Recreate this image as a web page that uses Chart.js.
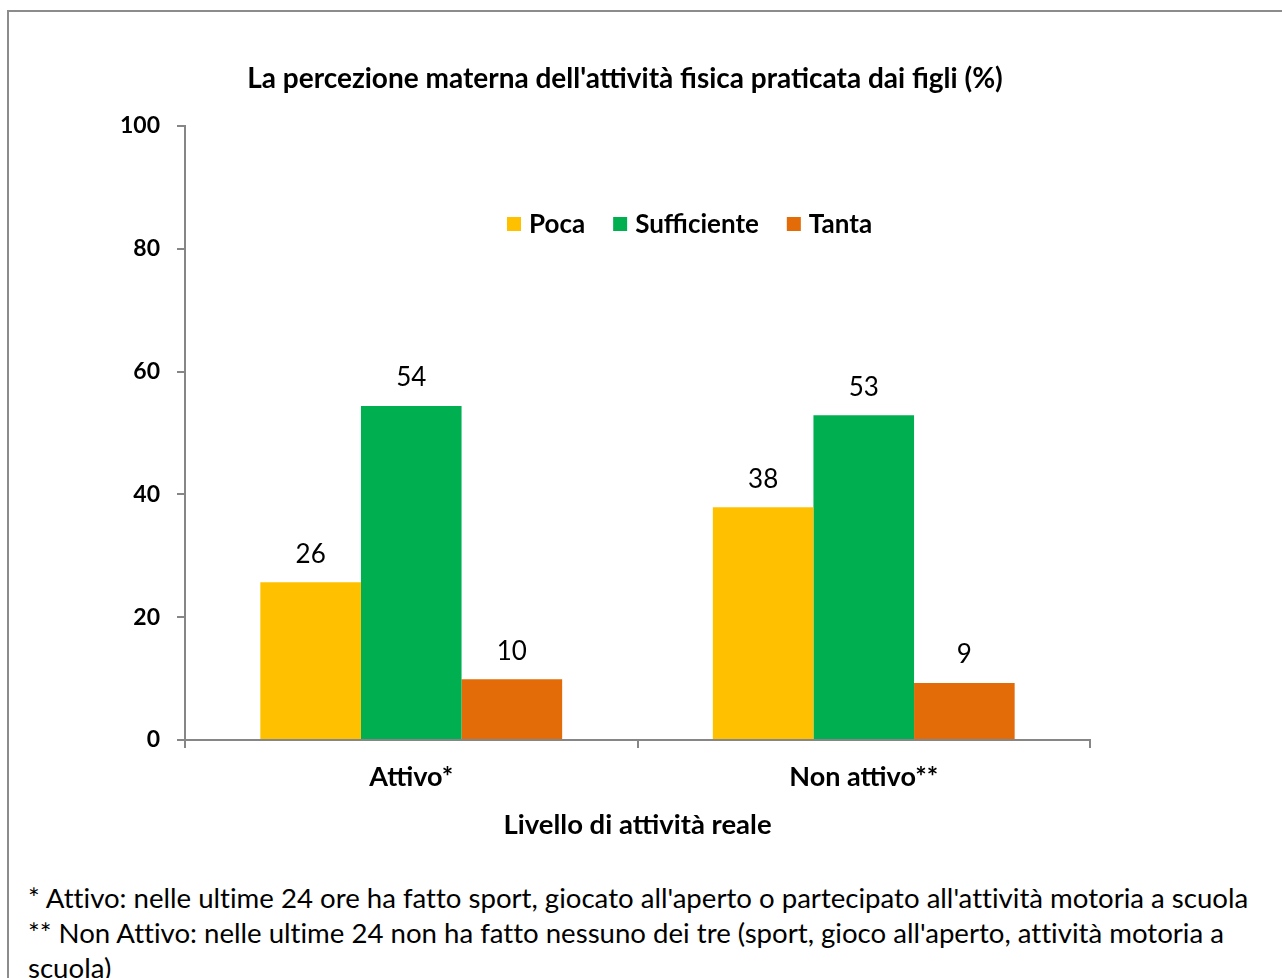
<!DOCTYPE html>
<html>
<head>
<meta charset="utf-8">
<script src="https://cdn.jsdelivr.net/npm/chart.js@4.4.1/dist/chart.umd.min.js"></script>
<style>
    body { margin: 0; background: #fff; font-family: Lato, sans-serif; }
    #frame { position: absolute; left: 7px; top: 10px; width: 1280px; height: 980px;
             border-top: 2px solid #8c8c8c; border-left: 2px solid #8c8c8c; }
    #chart { position: absolute; left: 0; top: 0; }
    #notes { position: absolute; left: 28px; top: 880px; width: 1240px;
             font-size: 27.6px; line-height: 35px; color: #000; font-variant-ligatures: none; }
</style>
</head>
<body>
<div id="frame"></div>
<canvas id="chart" width="1282" height="860"></canvas>
<div id="notes">
    * Attivo: nelle ultime 24 ore ha fatto sport, giocato all'aperto o partecipato all'attività motoria a scuola<br>
    ** Non Attivo: nelle ultime 24 non ha fatto nessuno dei tre (sport, gioco all'aperto, attività motoria a scuola)
</div>
<script>
const categories = ['Attivo*', 'Non attivo**'];
const seriesNames = ['Poca', 'Sufficiente', 'Tanta'];
const poca = [25.7, 37.9];
const sufficiente = [54.4, 52.9];
const tanta = [9.9, 9.3];
const colors = ['#FFC000', '#00B050', '#E36C09'];
const chartTitle = "La percezione materna dell'attività fisica praticata dai figli (%)";

const FONT = 'Lato, sans-serif';
const axisColor = '#868686';

// title, legend inside the plot and value labels
const overlay = {
    id: 'overlay',
    afterDraw(chart) {
        const ctx = chart.ctx;
        ctx.save();
        ctx.fillStyle = '#000';
        ctx.textBaseline = 'middle';

        ctx.font = 'bold 28px ' + FONT;
        ctx.textAlign = 'center';
        ctx.fillText(chartTitle, 625, 79);

        // legend
        ctx.font = 'bold 26px ' + FONT;
        ctx.textAlign = 'left';
        let x = 507;
        chart.data.datasets.forEach(ds => {
            ctx.fillStyle = ds.backgroundColor;
            ctx.fillRect(x, 217, 14, 14);
            ctx.fillStyle = '#000';
            ctx.fillText(ds.label, x + 22, 225);
            x += 22 + ctx.measureText(ds.label).width + 28;
        });

        // value labels
        ctx.font = '26px ' + FONT;
        ctx.textAlign = 'center';
        chart.data.datasets.forEach((ds, i) => {
            chart.getDatasetMeta(i).data.forEach((bar, j) => {
                ctx.fillText(Math.round(ds.data[j]), bar.x, bar.y - 28);
            });
        });
        ctx.restore();
    }
};

new Chart(document.getElementById('chart'), {
    type: 'bar',
    data: {
        labels: categories,
        datasets: [
            { label: seriesNames[0], data: poca, backgroundColor: colors[0] },
            { label: seriesNames[1], data: sufficiente, backgroundColor: colors[1] },
            { label: seriesNames[2], data: tanta, backgroundColor: colors[2] }
        ]
    },
    options: {
        responsive: false,
        animation: false,
        categoryPercentage: 0.667,
        barPercentage: 1,
        layout: { padding: { top: 126, right: 192, left: 0, bottom: 0 } },
        plugins: {
            legend: { display: false },
            title: { display: false },
            tooltip: { enabled: false }
        },
        scales: {
            x: {
                afterFit: scale => { scale.height = 120; },
                grid: { drawOnChartArea: false, tickLength: 8, color: axisColor, lineWidth: 2 },
                border: { color: axisColor, width: 2 },
                ticks: { color: '#000', padding: 13, font: { family: FONT, size: 27, weight: 'bold' } },
                title: {
                    display: true,
                    text: 'Livello di attività reale',
                    color: '#000',
                    padding: { top: 0, bottom: 18 },
                    font: { family: FONT, size: 27.5, weight: 'bold' }
                }
            },
            y: {
                min: 0,
                max: 100,
                afterFit: scale => { scale.width = 185; },
                grid: { drawOnChartArea: false, tickLength: 8, color: axisColor, lineWidth: 2 },
                border: { color: axisColor, width: 2 },
                ticks: { stepSize: 20, color: '#000', padding: 17, font: { family: FONT, size: 23, weight: 'bold' } }
            }
        }
    },
    plugins: [overlay]
});
</script>
</body>
</html>
